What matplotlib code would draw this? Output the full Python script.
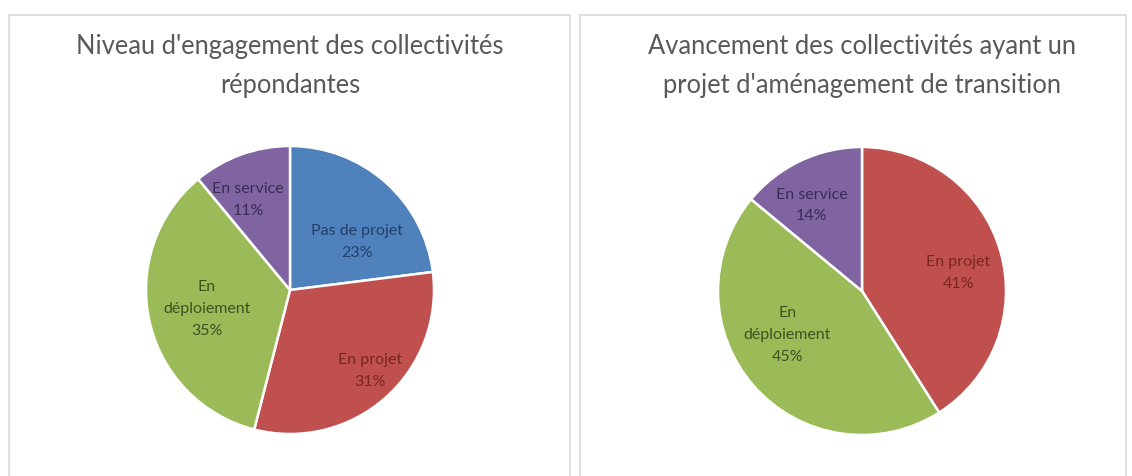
import matplotlib
matplotlib.use("Agg")
import matplotlib.pyplot as plt
from matplotlib.patches import Rectangle

plt.rcParams["font.family"] = ["Lato", "DejaVu Sans"]

# données
left_labels = ["Pas de projet", "En projet", "En\ndéploiement", "En service"]
left_values = [23, 31, 35, 11]
right_labels = ["En projet", "En\ndéploiement", "En service"]
right_values = [41, 45, 14]

# couleurs (style Excel)
COL = {"Pas de projet": "#4F81BD", "En projet": "#C0504D",
       "En\ndéploiement": "#9BBB59", "En service": "#8064A2"}
TXT = {"Pas de projet": "#22406A", "En projet": "#7A2522",
       "En\ndéploiement": "#3F5220", "En service": "#3B2B55"}

# position des étiquettes (en rayons, relatif au centre)
left_pos = [(0.465, 0.34), (0.555, -0.555), (-0.576, -0.125), (-0.29, 0.63)]
right_pos = [(0.667, 0.13), (-0.52, -0.30), (-0.35, 0.60)]

W, H = 1132, 477
fig = plt.figure(figsize=(W / 100, H / 100), dpi=100)

# cadres des deux graphiques
for x0, x1 in [(9, 570), (580, 1126)]:
    fig.patches.append(Rectangle((x0 / W, -0.1), (x1 - x0) / W, 1.1 - 16 / H,
                                 transform=fig.transFigure, fill=False,
                                 edgecolor="#D9D9D9", linewidth=1.2))


def draw_pie(cx, cy, r, labels, values, pos, title):
    ax = fig.add_axes([(cx - r) / W, (H - cy - r) / H, 2 * r / W, 2 * r / H])
    ax.pie(values, colors=[COL[l] for l in labels], startangle=90,
           counterclock=False, radius=1,
           wedgeprops=dict(edgecolor="white", linewidth=1.8))
    for lab, v, (x, y) in zip(labels, values, pos):
        ax.text(x, y, f"{lab}\n{v}%", ha="center", va="center",
                fontsize=11.5, color=TXT[lab], linespacing=1.7)
    ax.set_xlim(-1, 1)
    ax.set_ylim(-1, 1)
    ax.set_axis_off()
    fig.text(cx / W, 1 - 66 / H, title, ha="center", va="center",
             fontsize=18.4, color="#595959", linespacing=1.7)


draw_pie(290, 291, 144, left_labels, left_values, left_pos,
         "Niveau d'engagement des collectivités\nrépondantes")
draw_pie(862, 292, 144, right_labels, right_values, right_pos,
         "Avancement des collectivités ayant un\nprojet d'aménagement de transition")

fig.savefig("out.png", dpi=100)
